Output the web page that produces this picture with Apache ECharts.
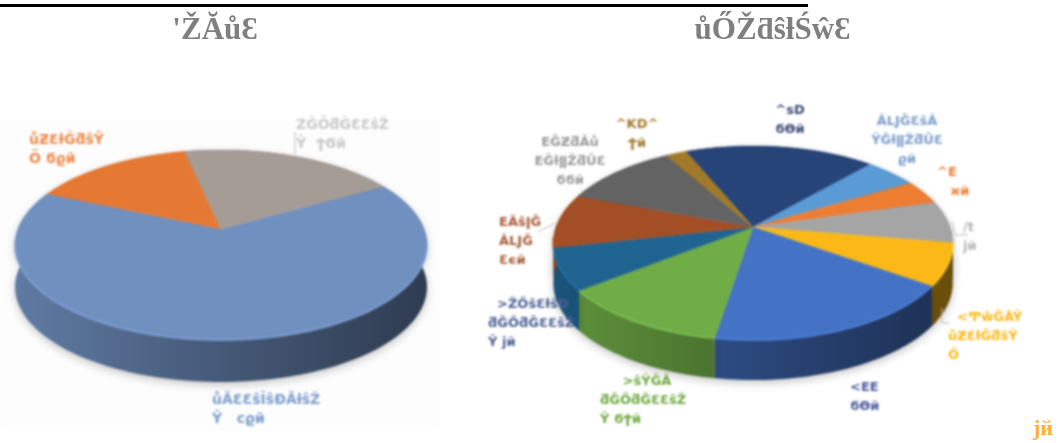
<!DOCTYPE html>
<html>
<head>
<meta charset="utf-8">
<style>
html,body{margin:0;padding:0;background:#fff;}
#wrap{position:relative;width:1063px;height:443px;overflow:hidden;}
#pies,#titles{position:absolute;left:0;top:0;width:1063px;height:443px;}
#pies{filter:blur(0.8px);}
</style>
<script src="https://cdn.jsdelivr.net/npm/echarts@6/dist/echarts.min.js"></script>
</head>
<body>
<div id="wrap">
  <div id="pies"></div>
  <div id="titles"></div>
</div>
<script>
// data
var goalValues = [65, 15, 20];
var goalColors = ['#7090c0', '#e57934', '#a59c96'];
var goalTexts = [
  ['ůĂƐƐŝĨŝĐĂƚŝŽ', 'Ŷ   ϲϱй'],
  ['ůƵƐƚĞƌŝŶ', 'Ő ϭϱй'],
  ['ZĞŐƌĞƐƐŝŽ', 'Ŷ  ϮϬй']
];
var algoValues = [18, 5, 4, 7, 7, 18, 12, 7, 9, 11, 2];
var algoColors = ['#264478', '#5b9bd5', '#ed7d31', '#a5a5a5', '#fbb817', '#4472c4', '#70ad47', '#1f6391', '#a34e24', '#636363', '#a07a2a'];
var algoTexts = [
  ['^sD', 'ϭϴй'],
  ['ĂLJĞƐŝĂ', 'ŶĞƚǁŽƌŬƐ', 'ϱй'],
  ['^E', '   ϰй'],
  ['/t', 'ϳй'],
  ['  <ͲŵĞĂŶ', 'ůƵƐƚĞƌŝŶ', 'Ő'],
  ['<EE', 'ϭϴй'],
  ['     >ŝŶĞĂ', 'ƌĞŐƌĞƐƐŝŽ', 'Ŷ ϭϮй'],
  ['  >ŽŐŝƐƚŝĐ', 'ƌĞŐƌĞƐƐŝŽ', 'Ŷ ϳй'],
  ['EĂŝǀĞ', 'ĂLJĞ', 'Ɛϵй'],
  ['EĞƵƌĂů', 'EĞƚǁŽƌŬƐ', 'ϭϭй'],
  ['^KD^', 'Ϯй']
];
var goalTitle = "'ŽĂůƐ";
var algoTitle = 'ůŐŽƌŝƚŚŵƐ';
var strayLabel = 'ϳй';

// layout, not data
var goalPie = {cx: 221, cy: 229, a: 203, b: 92.3, k: 0.168, depth: 42, start: 30};
var algoPie = {cx: 753, cy: 227, a: 197, b: 94.4, k: 0.165, depth: 40, start: 113};
var goalFont = 'bold 14px "DejaVu Sans"';
var algoFont = 'bold 13px "DejaVu Sans"';
var goalTextPos = [[212, 400, 'left', '#7c9dcc'], [29, 140, 'left', '#ee8a4a'], [296, 125, 'left', '#cacaca']];
var algoTextPos = [
  [790, 111, 'center', '#3a4a78'],
  [907, 122, 'center', '#7c9dcc'],
  [937, 173, 'left', '#ed7d31'],
  [963, 228, 'left', '#b5b5b5'],
  [948, 318, 'left', '#fbb817'],
  [850, 388, 'left', '#4a5a9c'],
  [600, 382, 'left', '#6fa83f'],
  [488, 305, 'left', '#4a5f92'],
  [499, 223, 'left', '#a85a38'],
  [570, 143, 'center', '#9a9a9a'],
  [637, 125, 'center', '#a07a2a']
];
var leaders = [
  [[295, 132], [295, 155]],
  [[538, 232], [555, 223]],
  [[952, 222], [955, 235], [968, 235]],
  [[942, 308], [942, 323], [950, 323]]
];

function project(p, deg) {
  var t = deg * Math.PI / 180, u = Math.cos(t), v = Math.sin(t), w = 1 + p.k * v;
  return [p.cx + p.a * u / w, p.cy - p.b * v / w];
}
function shade(hex, f) {
  var n = parseInt(hex.slice(1), 16);
  var r = Math.min(255, Math.round((n >> 16) * f));
  var g = Math.min(255, Math.round(((n >> 8) & 255) * f));
  var b = Math.min(255, Math.round((n & 255) * f));
  return 'rgb(' + r + ',' + g + ',' + b + ')';
}

function pieSeries(p, values, colors) {
  var total = values.reduce(function (s, x) { return s + x; }, 0);
  return {
    type: 'custom',
    coordinateSystem: 'none',
    silent: true,
    animation: false,
    data: values,
    renderItem: function (params, api) {
      var i = params.dataIndex, before = 0;
      for (var n = 0; n < i; n++) before += values[n];
      var from = p.start - before / total * 360;
      var to = from - api.value(0) / total * 360;
      var rim = [], front = [];
      for (var d = from; d > to; d -= 1.5) rim.push(project(p, d));
      rim.push(project(p, to));
      rim.forEach(function (pt) { if (pt[1] > p.cy + 10) front.push(pt); });
      var wall = rim.concat(rim.slice().reverse().map(function (pt) { return [pt[0], pt[1] + p.depth]; }));
      var color = colors[i];
      var kids = [{
        type: 'polygon', z2: 1,
        shape: {points: wall},
        style: {
          fill: {
            type: 'linear', global: true, x: p.cx - p.a, y: 0, x2: p.cx + p.a, y2: 0,
            colorStops: [
              {offset: 0, color: shade(color, 0.85)},
              {offset: 0.55, color: shade(color, 0.6)},
              {offset: 1, color: shade(color, 0.42)}
            ]
          },
          shadowBlur: 8, shadowColor: 'rgba(0,0,0,0.22)', shadowOffsetY: 3
        }
      }, {
        type: 'polygon', z2: 2,
        shape: {points: [[p.cx, p.cy]].concat(rim)},
        style: {fill: color, stroke: color, lineWidth: 0.5}
      }];
      if (front.length > 1) {
        kids.push({
          type: 'polyline', z2: 3,
          shape: {points: front},
          style: {fill: null, stroke: shade(color, 1.12), lineWidth: 2, opacity: 0.8}
        });
      }
      return {type: 'group', children: kids};
    }
  };
}

function labelGraphics(texts, pos, font) {
  var out = [];
  texts.forEach(function (lines, i) {
    lines.forEach(function (line, j) {
      out.push({
        type: 'text', z: 10,
        x: pos[i][0], y: pos[i][1] + j * 19,
        style: {text: line, fill: pos[i][3], align: pos[i][2], verticalAlign: 'middle', font: font}
      });
    });
  });
  return out;
}

var pies = echarts.init(document.getElementById('pies'));
pies.setOption({
  animation: false,
  series: [pieSeries(goalPie, goalValues, goalColors), pieSeries(algoPie, algoValues, algoColors)],
  graphic: [{type: 'rect', z: -1, shape: {x: 0, y: 120, width: 440, height: 310}, style: {fill: '#fdfdfd'}}]
    .concat(labelGraphics(goalTexts, goalTextPos, goalFont))
    .concat(labelGraphics(algoTexts, algoTextPos, algoFont))
    .concat(leaders.map(function (pts) {
      return {type: 'polyline', z: 9, shape: {points: pts}, style: {fill: null, stroke: '#bdbdbd', lineWidth: 1}};
    }))
});

var titles = echarts.init(document.getElementById('titles'));
titles.setOption({
  animation: false,
  graphic: [
    {type: 'rect', shape: {x: 0, y: 4, width: 808, height: 3}, style: {fill: '#000'}},
    {type: 'text', x: 215, y: 31, style: {text: goalTitle, align: 'center', verticalAlign: 'middle', fill: '#7f7f7f', font: 'bold 31px "Liberation Serif"'}},
    {type: 'text', x: 772.5, y: 31, style: {text: algoTitle, align: 'center', verticalAlign: 'middle', fill: '#7f7f7f', font: 'bold 31px "Liberation Serif"'}},
    {type: 'text', x: 1033, y: 429, style: {text: strayLabel, align: 'left', verticalAlign: 'middle', fill: '#fbb040', font: 'bold 22px "Liberation Serif"'}}
  ]
});
</script>
</body>
</html>
